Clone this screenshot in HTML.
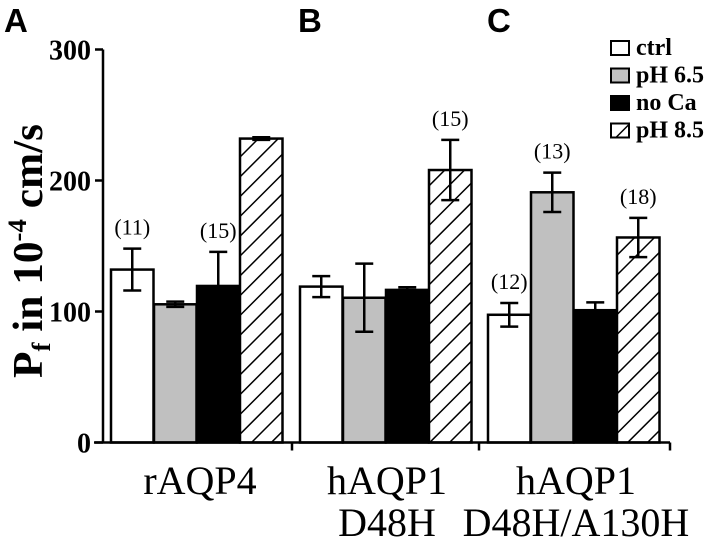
<!DOCTYPE html>
<html><head><meta charset="utf-8"><style>
html,body{margin:0;padding:0;background:#fff;}
svg{display:block;}
</style></head><body>
<svg id="chart" width="720" height="544" viewBox="0 0 720 544" xmlns="http://www.w3.org/2000/svg">
<defs>
<pattern id="hatch" patternUnits="userSpaceOnUse" width="14" height="14" patternTransform="rotate(45)">
<rect width="14" height="14" fill="#fff"/>
<line x1="0" y1="0" x2="0" y2="14" stroke="#000" stroke-width="3"/>
</pattern>
</defs>
<g id="plot"></g>
</svg>
<script>
const categories = ["rAQP4", "hAQP1|D48H", "hAQP1|D48H/A130H"];
const seriesNames = ["ctrl", "pH 6.5", "no Ca", "pH 8.5"];
const ctrlVals = [132, 119, 97.5];
const ph65Vals = [105.5, 110.5, 191];
const noCaVals = [119.5, 116.5, 101];
const ph85Vals = [232, 208, 156.5];
const ctrlErr = [16, 8, 9];
const ph65Err = [2, 26, 15];
const noCaErr = [26, 2, 6];
const ph85Err = [1, 23, 15];
const nLabels = [["(11)", "", "(15)", ""], ["", "", "", "(15)"], ["(12)", "(13)", "", "(18)"]];
const yTicks = [0, 100, 200, 300];
const panelLetters = ["A", "B", "C"];

const NS = "http://www.w3.org/2000/svg";
const g = document.getElementById("plot");
const y0 = 442.5, yScale = 1.31;
function y(v){ return y0 - v * yScale; }
const groupStart = [111, 300, 488], barW = 42.5;
function x(gi, si){ return groupStart[gi] + si * 43; }
function mk(tag, attrs, parent){ const e = document.createElementNS(NS, tag); for (const k in attrs) e.setAttribute(k, attrs[k]); (parent||g).appendChild(e); return e; }
const fills = ["#fff", "#c0c0c0", "#000", "url(#hatch)"];
const vals = [ctrlVals, ph65Vals, noCaVals, ph85Vals];
const errs = [ctrlErr, ph65Err, noCaErr, ph85Err];
const serif = "'Liberation Serif', serif";

for (let gi = 0; gi < categories.length; gi++) {
  for (let si = 0; si < 4; si++) {
    const v = vals[si][gi], e = errs[si][gi];
    const r = mk("rect", {x: x(gi, si), y: y(v), width: barW, height: y0 - y(v), fill: fills[si], stroke: "#000", "stroke-width": 2.5});
    
    
    const cx = x(gi, si) + barW / 2;
    const eg = mk("g", {stroke: "#000", "stroke-width": 2.5});
    
    
    mk("line", {x1: cx, x2: cx, y1: y(v + e), y2: y(v - e)}, eg);
    mk("line", {x1: cx - 9, x2: cx + 9, y1: y(v + e), y2: y(v + e)}, eg);
    mk("line", {x1: cx - 9, x2: cx + 9, y1: y(v - e), y2: y(v - e)}, eg);
    const lab = nLabels[gi][si];
    if (lab) {
      const t = mk("text", {x: cx, y: y(v + e) - 14, "text-anchor": "middle", "font-family": serif, "font-size": 22});
      t.textContent = lab;
      
      
    }
  }
}

const ax = mk("g", {stroke: "#000", "stroke-width": 2.5});


mk("line", {x1: 103, x2: 103, y1: y(300), y2: y0}, ax);
mk("line", {x1: 94, x2: 670, y1: y0, y2: y0}, ax);
[292, 479, 670].forEach(px => mk("line", {x1: px, x2: px, y1: y0, y2: y0 + 8}, ax));
yTicks.forEach(v => {
  mk("line", {x1: 95, x2: 103, y1: y(v), y2: y(v)}, ax);
  const t = mk("text", {x: 91, y: y(v) + 10, "text-anchor": "end", "font-family": serif, "font-weight": "bold", "font-size": 28, stroke: "none"});
  t.textContent = v;
  
  
});

const yt = mk("text", {transform: "translate(42,378) rotate(-90)", "font-family": serif, "font-weight": "bold", "font-size": 42, textLength: 254, lengthAdjust: "spacingAndGlyphs"});
yt.innerHTML = 'P<tspan font-size="26" dy="8">f</tspan><tspan dy="-8"> in 10</tspan><tspan font-size="26" dy="-16">-4</tspan><tspan dy="16"> cm/s</tspan>';



const catCenters = [200, 387, 576];
categories.forEach((c, i) => {
  const parts = c.split("|");
  parts.forEach((p, j) => {
    const t = mk("text", {x: catCenters[i], y: 494 + j * 42, "text-anchor": "middle", "font-family": serif, "font-size": 40});
    t.textContent = p;
    
    
  });
});

const letterX = [4, 298, 487];
panelLetters.forEach((L, i) => {
  const t = mk("text", {x: letterX[i], y: 32, "font-family": "'Liberation Sans', sans-serif", "font-weight": "bold", "font-size": 33});
  t.textContent = L;
  
  
});

const lg = mk("g", {});


seriesNames.forEach((n, i) => {
  const yy = 41 + i * 27.5;
  const r = mk("rect", {x: 611, y: yy, width: 18, height: 14, fill: fills[i], stroke: "#000", "stroke-width": 2}, lg);
  
  
  const t = mk("text", {x: 636, y: yy + 14, "font-family": serif, "font-weight": "bold", "font-size": 24}, lg);
  t.textContent = n;
  
  
});
</script>
</body></html>
